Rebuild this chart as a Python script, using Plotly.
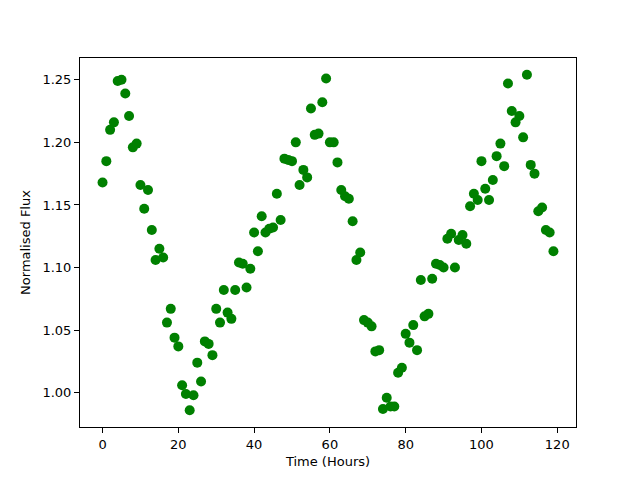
import plotly.graph_objects as go

hours = list(range(120))
flux = [
    1.168, 1.185, 1.210, 1.216, 1.249, 1.250, 1.239, 1.221, 1.196, 1.199,
    1.166, 1.147, 1.162, 1.130, 1.106, 1.115, 1.108, 1.056, 1.067, 1.044,
    1.037, 1.006, 0.999, 0.986, 0.998, 1.024, 1.009, 1.041, 1.039, 1.030,
    1.067, 1.056, 1.082, 1.064, 1.059, 1.082, 1.104, 1.103, 1.084, 1.099,
    1.128, 1.113, 1.141, 1.128, 1.131, 1.132, 1.159, 1.138, 1.187, 1.186,
    1.185, 1.200, 1.166, 1.178, 1.172, 1.227, 1.206, 1.207, 1.232, 1.251,
    1.200, 1.200, 1.184, 1.162, 1.157, 1.155, 1.137, 1.106, 1.112, 1.058,
    1.056, 1.053, 1.033, 1.034, 0.987, 0.996, 0.989, 0.989, 1.016, 1.020,
    1.047, 1.040, 1.054, 1.034, 1.090, 1.061, 1.063, 1.091, 1.103, 1.102,
    1.100, 1.123, 1.127, 1.100, 1.122, 1.126, 1.119, 1.149, 1.159, 1.154,
    1.185, 1.163, 1.154, 1.170, 1.189, 1.199, 1.181, 1.247, 1.225, 1.216,
    1.221, 1.204, 1.254, 1.182, 1.175, 1.145, 1.148, 1.130, 1.128, 1.113,
]
x_ticks = [0, 20, 40, 60, 80, 100, 120]
y_ticks = [1.00, 1.05, 1.10, 1.15, 1.20, 1.25]

xmin, xmax = min(hours), max(hours)
ymin, ymax = min(flux), max(flux)
xpad = (xmax - xmin) * 0.05
ypad = (ymax - ymin) * 0.05

fig = go.Figure(go.Scatter(
    x=hours, y=flux, mode="markers",
    marker=dict(color="#008000", size=10, line=dict(width=0)),
))

axis_common = dict(
    showgrid=False, zeroline=False, showline=True, linecolor="black",
    linewidth=1, mirror=True, ticks="outside", ticklen=5, tickwidth=1,
    tickcolor="black", automargin=False,
    tickfont=dict(family="DejaVu Sans", size=13, color="black"),
)
fig.update_xaxes(range=[xmin - xpad, xmax + xpad], tickvals=x_ticks,
                 ticktext=[str(v) for v in x_ticks],
                 title=dict(text="Time (Hours)", font=dict(family="DejaVu Sans", size=13, color="black"), standoff=6),
                 **axis_common)
fig.update_yaxes(range=[ymin - ypad, ymax + ypad], tickvals=y_ticks,
                 ticktext=[f"{v:.2f}" for v in y_ticks],
                 title=dict(text="Normalised Flux", font=dict(family="DejaVu Sans", size=13, color="black"), standoff=8),
                 **axis_common)
fig.update_layout(
    width=632, height=472,
    margin=dict(l=72, r=64, t=50, b=53),
    plot_bgcolor="white", paper_bgcolor="white",
    showlegend=False,
)
fig.write_html("out.html")
